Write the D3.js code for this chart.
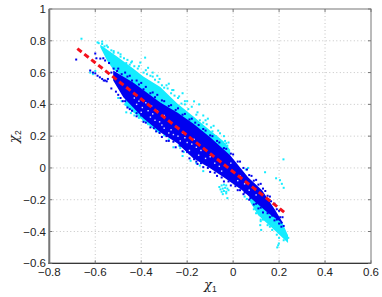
<!DOCTYPE html>
<html>
<head>
<meta charset="utf-8">
<script src="https://cdnjs.cloudflare.com/ajax/libs/d3/7.8.5/d3.min.js"></script>
<style>
html, body { margin: 0; padding: 0; background: #fff; }
svg { display: block; }
text { font-family: "Liberation Sans", Arial, sans-serif; font-size: 11.5px; fill: #222; }
</style>
</head>
<body>
<svg id="graph" width="382" height="297"></svg>
<script>
var xTicks = [-0.8, -0.6, -0.4, -0.2, 0, 0.2, 0.4, 0.6];
var yTicks = [-0.6, -0.4, -0.2, 0, 0.2, 0.4, 0.6, 0.8, 1];

// outlines of the dense parts of the clouds
var cyanUpperOutline = [[-0.578,0.775],[-0.504,0.7],[-0.435,0.625],[-0.391,0.575],[-0.317,0.51],[-0.243,0.405],[-0.174,0.325],[-0.1,0.235],[-0.043,0.17],[-0.013,0.115],[-0.013,0.07],[-0.174,0.27],[-0.317,0.4],[-0.435,0.53],[-0.522,0.62],[-0.548,0.675],[-0.578,0.76]];
var cyanLowerOutline = [[-0.47,0.45],[-0.317,0.26],[-0.317,0.212],[-0.404,0.312],[-0.47,0.393]];
var cyanTailOutline = [[0.07,-0.15],[0.213,-0.34],[0.239,-0.425],[0.239,-0.472],[0.17,-0.378],[0.109,-0.297],[0.074,-0.215]];
var blueOutline = [[-0.522,0.613],[-0.435,0.538],[-0.317,0.412],[-0.243,0.349],[-0.174,0.28],[-0.1,0.193],[-0.013,0.08],[0.065,-0.058],[0.126,-0.14],[0.183,-0.265],[0.217,-0.347],[0.213,-0.347],[0.152,-0.284],[0.096,-0.215],[0.039,-0.14],[-0.035,-0.065],[-0.1,-0.002],[-0.174,0.061],[-0.243,0.155],[-0.317,0.224],[-0.391,0.312],[-0.435,0.381],[-0.478,0.444],[-0.522,0.55]];

var cyanPoints = [[-0.66,0.813],[-0.622,0.6],[-0.61,0.59],[-0.6,0.61],[-0.59,0.79],[-0.585,0.785],[-0.57,0.78],[-0.56,0.765],[-0.545,0.76],[-0.53,0.74],[-0.52,0.735],[-0.5,0.725],[-0.49,0.7],[-0.475,0.69],[-0.46,0.68],[-0.45,0.65],[-0.444,0.663],[-0.43,0.64],[-0.415,0.625],[-0.404,0.663],[-0.383,0.694],[-0.39,0.6],[-0.375,0.59],[-0.36,0.58],[-0.35,0.6],[-0.34,0.555],[-0.325,0.54],[-0.31,0.52],[-0.3,0.505],[-0.285,0.5],[-0.27,0.47],[-0.255,0.455],[-0.24,0.44],[-0.225,0.405],[-0.21,0.4],[-0.195,0.37],[-0.17,0.419],[-0.148,0.4],[-0.16,0.335],[-0.145,0.3],[-0.13,0.285],[-0.115,0.275],[-0.096,0.255],[-0.09,0.23],[-0.075,0.2],[-0.057,0.218],[-0.06,0.17],[-0.045,0.15],[-0.03,0.155],[-0.035,0.17],[-0.025,0.14],[-0.04,0.135],[-0.37,0.63],[-0.33,0.58],[-0.28,0.53],[-0.22,0.47],[-0.26,0.49],[-0.2,0.42],[-0.13,0.33],[-0.11,0.31],
[-0.57,0.795],[-0.55,0.77],[-0.52,0.725],[-0.49,0.715],[-0.465,0.66],[-0.44,0.67],[-0.41,0.64],[-0.38,0.615],[-0.35,0.575],[-0.32,0.56],[-0.29,0.52],[-0.265,0.49],[-0.235,0.45],[-0.21,0.42],[-0.18,0.385],[-0.155,0.35],[-0.12,0.3],[-0.085,0.265],[-0.065,0.235],[-0.04,0.2],[-0.02,0.16],
[-0.5,0.44],[-0.485,0.42],[-0.47,0.4],[-0.465,0.35],[-0.445,0.345],[-0.43,0.33],[-0.41,0.315],[-0.39,0.3],[-0.37,0.275],[-0.35,0.26],[-0.32,0.235],[-0.3,0.205],[-0.28,0.18],[-0.25,0.17],[-0.235,0.14],[-0.23,0.125],[-0.215,0.1],[-0.205,0.115],[-0.19,0.09],[-0.17,0.07],[-0.26,0.13],[-0.22,0.075],[-0.185,0.045],[-0.16,0.03],[-0.145,0.015],[-0.13,-0.02],
[-0.06,-0.12],[-0.05,-0.11],[-0.04,-0.105],[-0.03,-0.11],[-0.055,-0.135],[-0.045,-0.13],[-0.035,-0.125],[-0.025,-0.13],[-0.05,-0.15],[-0.04,-0.145],[-0.03,-0.15],[-0.02,-0.14],[-0.045,-0.165],[-0.03,-0.16],[-0.025,-0.19],
[0.065,0],[0.055,-0.01],[0.139,-0.027],[0.219,0.054],[0.187,-0.065],[0.204,-0.077],[0.212,-0.1],[0.22,-0.125],[0.196,-0.487],[0.192,-0.5],[0.199,-0.475],[0.122,-0.39],[0.118,-0.36],[0.12,-0.325],[0.12,-0.335],[0.09,-0.26],[0.1,-0.285],[0.13,-0.325],[0.15,-0.36],[0.17,-0.39],[0.2,-0.44],[0.22,-0.455],[0.24,-0.44],[0.232,-0.425],[0.215,-0.41],[0.05,-0.18],[0.06,-0.195],[0.16,-0.37],[0.19,-0.42]];

var bluePoints = [[-0.683,0.682],[-0.6,0.72],[-0.595,0.69],[-0.578,0.688],[-0.565,0.69],[-0.557,0.676],[-0.54,0.66],[-0.622,0.613],[-0.61,0.6],[-0.6,0.595],[-0.59,0.58],[-0.58,0.57],[-0.57,0.56],[-0.563,0.55],[-0.557,0.55],[-0.55,0.545],[-0.545,0.56],[-0.53,0.6],[-0.52,0.625],[-0.505,0.61],[-0.485,0.59],[-0.46,0.575],[-0.44,0.55],[-0.41,0.525],[-0.39,0.495],[-0.36,0.47],[-0.34,0.445],[-0.31,0.425],[-0.28,0.39],[-0.25,0.365],[-0.22,0.335],[-0.19,0.305],[-0.165,0.285],[-0.13,0.245],[-0.1,0.205],[-0.07,0.17],[-0.04,0.125],[-0.01,0.09],[0.02,0.04],[0.045,0],[0.07,-0.045],[0.09,-0.08],[0.11,-0.105],[0.13,-0.13],[0.15,-0.175],[0.165,-0.21],[0.19,-0.26],[0.205,-0.31],
[-0.5,0.625],[-0.47,0.6],[-0.45,0.58],[-0.42,0.55],[-0.4,0.535],[-0.38,0.51],[-0.35,0.475],[-0.33,0.46],[-0.3,0.42],[-0.27,0.395],[-0.24,0.375],[-0.21,0.34],[-0.18,0.31],[-0.15,0.27],[-0.12,0.235],[-0.09,0.2],[-0.06,0.16],[-0.03,0.12],[0,0.085],[0.03,0.04],[0.06,-0.01],[0.08,-0.05],[0.1,-0.075],[0.12,-0.1],[0.14,-0.145],[0.16,-0.18],[0.18,-0.225],[0.2,-0.27],[0.215,-0.31],
[-0.53,0.5],[-0.51,0.48],[-0.49,0.44],[-0.47,0.42],[-0.45,0.37],[-0.42,0.345],[-0.4,0.33],[-0.37,0.3],[-0.345,0.25],[-0.32,0.22],[-0.29,0.2],[-0.26,0.165],[-0.23,0.14],[-0.2,0.1],[-0.17,0.055],[-0.14,0.03],[-0.11,0],[-0.08,-0.03],[-0.05,-0.06],[-0.02,-0.085],[0.01,-0.115],[0.03,-0.14],[0.05,-0.155],[0.075,-0.19],[0.1,-0.225],[0.12,-0.25],[0.15,-0.285],[0.17,-0.3],[0.19,-0.325],[0.21,-0.345],[0.22,-0.365],[0.21,-0.37],[-0.155,0.025],[-0.29,0.17],[-0.38,0.285],[-0.46,0.38],
[-0.5,0.46],[-0.48,0.42],[-0.44,0.36],[-0.42,0.325],[-0.39,0.29],[-0.36,0.255],[-0.335,0.23],[-0.31,0.195],[-0.28,0.17],[-0.25,0.13],[-0.22,0.105],[-0.19,0.06],[-0.16,0.04],[-0.13,0.005],[-0.1,-0.025],[-0.07,-0.05],[-0.04,-0.085],[-0.01,-0.11],[0.02,-0.14],[0.045,-0.165],[0.07,-0.2],[0.09,-0.23],[0.11,-0.255],[0.13,-0.28],[0.16,-0.31],[0.18,-0.33],[0.2,-0.35]];

// holes in the blue cloud
var gapPoints = [[-0.43,0.44],[-0.41,0.42],[-0.395,0.38],[-0.37,0.36],[-0.355,0.39],[-0.34,0.3],[-0.32,0.29],[-0.3,0.25],[-0.28,0.22],[-0.26,0.21],[-0.24,0.2],[-0.25,0.26],[-0.23,0.17],[-0.2,0.16],[-0.18,0.15],[-0.16,0.13],[-0.3,0.33],[-0.35,0.34],[-0.22,0.22],[-0.19,0.11],[-0.15,0.08],[-0.12,0.06],[-0.06,0.01],[-0.05,-0.02],[-0.01,0.03],[0.02,-0.08],[0.05,-0.1],[0.07,-0.14],[0.03,-0.05],[0.1,-0.17],[-0.38,0.41],[-0.4,0.35],[-0.33,0.36],[-0.42,0.4],[-0.36,0.32],[-0.31,0.27],[-0.27,0.24],[-0.21,0.19],[-0.17,0.18],[-0.14,0.11],[-0.1,0.07],[-0.08,0.03]];

var lineX = [-0.678, 0.222];
var lineY = [0.751, -0.278];

var x = d3.scaleLinear().domain([-0.8, 0.6]).range([49.3, 371]);
var y = d3.scaleLinear().domain([-0.6, 1]).range([263.3, 9]);
var svg = d3.select("#graph");

// grid
svg.selectAll("line.gx").data(xTicks.slice(1, -1)).enter().append("line")
    .attr("x1", function(d) {return x(d);}).attr("x2", function(d) {return x(d);})
    .attr("y1", y(1)).attr("y2", y(-0.6))
    .attr("stroke", "#c4c4c4").attr("stroke-width", 1).attr("stroke-dasharray", "1,2.5");
svg.selectAll("line.gy").data(yTicks.slice(1, -1)).enter().append("line")
    .attr("y1", function(d) {return y(d);}).attr("y2", function(d) {return y(d);})
    .attr("x1", x(-0.8)).attr("x2", x(0.6))
    .attr("stroke", "#c4c4c4").attr("stroke-width", 1).attr("stroke-dasharray", "1,2.5");

var outline = d3.line()
    .x(function(d) {return x(d[0]);})
    .y(function(d) {return y(d[1]);});

function band(rows, color) {
    svg.append("path").attr("d", outline(rows) + "Z").attr("fill", color);
}
function dots(rows, color, size) {
    svg.append("g").selectAll("rect").data(rows).enter().append("rect")
        .attr("x", function(d) {return x(d[0]) - size / 2;})
        .attr("y", function(d) {return y(d[1]) - size / 2;})
        .attr("width", size).attr("height", size)
        .attr("fill", color);
}

var cyan = "#14ecff", blue = "#0000f0";
band(cyanUpperOutline, cyan);
band(cyanLowerOutline, cyan);
band(cyanTailOutline, cyan);
dots(cyanPoints, cyan, 2);
band(blueOutline, blue);
dots(bluePoints, blue, 2);
dots(gapPoints, "#dcdcff", 1.4);

svg.append("line")
    .attr("x1", x(lineX[0])).attr("y1", y(lineY[0]))
    .attr("x2", x(lineX[1])).attr("y2", y(lineY[1]))
    .attr("stroke", "#f5101c").attr("stroke-width", 3).attr("stroke-dasharray", "5.5,3.4");

// box
svg.append("rect").attr("x", x(-0.8)).attr("y", y(1))
    .attr("width", x(0.6) - x(-0.8)).attr("height", y(-0.6) - y(1))
    .attr("fill", "none").attr("stroke", "#777").attr("stroke-width", 1);
svg.append("line").attr("x1", x(-0.8)).attr("x2", x(-0.8)).attr("y1", y(1)).attr("y2", y(-0.6))
    .attr("stroke", "#777").attr("stroke-width", 2);
svg.append("line").attr("x1", x(-0.8) - 1).attr("x2", x(0.6)).attr("y1", y(-0.6)).attr("y2", y(-0.6))
    .attr("stroke", "#222").attr("stroke-width", 1);

// ticks
svg.selectAll("line.tx").data(xTicks).enter().append("line")
    .attr("x1", function(d) {return x(d);}).attr("x2", function(d) {return x(d);})
    .attr("y1", y(1)).attr("y2", y(1) + 3).attr("stroke", "#777");
svg.selectAll("line.txb").data(xTicks).enter().append("line")
    .attr("x1", function(d) {return x(d);}).attr("x2", function(d) {return x(d);})
    .attr("y1", y(-0.6)).attr("y2", y(-0.6) - 3).attr("stroke", "#777");
svg.selectAll("line.ty").data(yTicks).enter().append("line")
    .attr("y1", function(d) {return y(d);}).attr("y2", function(d) {return y(d);})
    .attr("x1", x(-0.8)).attr("x2", x(-0.8) + 3).attr("stroke", "#777");
svg.selectAll("line.tyr").data(yTicks).enter().append("line")
    .attr("y1", function(d) {return y(d);}).attr("y2", function(d) {return y(d);})
    .attr("x1", x(0.6)).attr("x2", x(0.6) - 3).attr("stroke", "#777");

function fmt(d) {return d < 0 ? "\u2212" + Math.abs(d) : "" + d;}

svg.selectAll("text.xl").data(xTicks).enter().append("text")
    .attr("x", function(d) {return x(d);}).attr("y", 276)
    .attr("text-anchor", "middle").text(fmt);
svg.selectAll("text.yl").data(yTicks).enter().append("text")
    .attr("x", 46).attr("y", function(d) {return y(d) + 4;})
    .attr("text-anchor", "end").text(fmt);

// axis labels
var xl = svg.append("text").attr("x", 204).attr("y", 289);
xl.append("tspan").style("font-size", "13px").style("font-family", "DejaVu Serif").style("font-style", "italic").text("\u03c7");
xl.append("tspan").attr("dy", 3).style("font-size", "8.5px").text("1");
var yl = svg.append("text").attr("transform", "translate(18,143) rotate(-90)");
yl.append("tspan").style("font-size", "13px").style("font-family", "DejaVu Serif").style("font-style", "italic").text("\u03c7");
yl.append("tspan").attr("dy", 3).style("font-size", "8.5px").text("2");
</script>
</body>
</html>
